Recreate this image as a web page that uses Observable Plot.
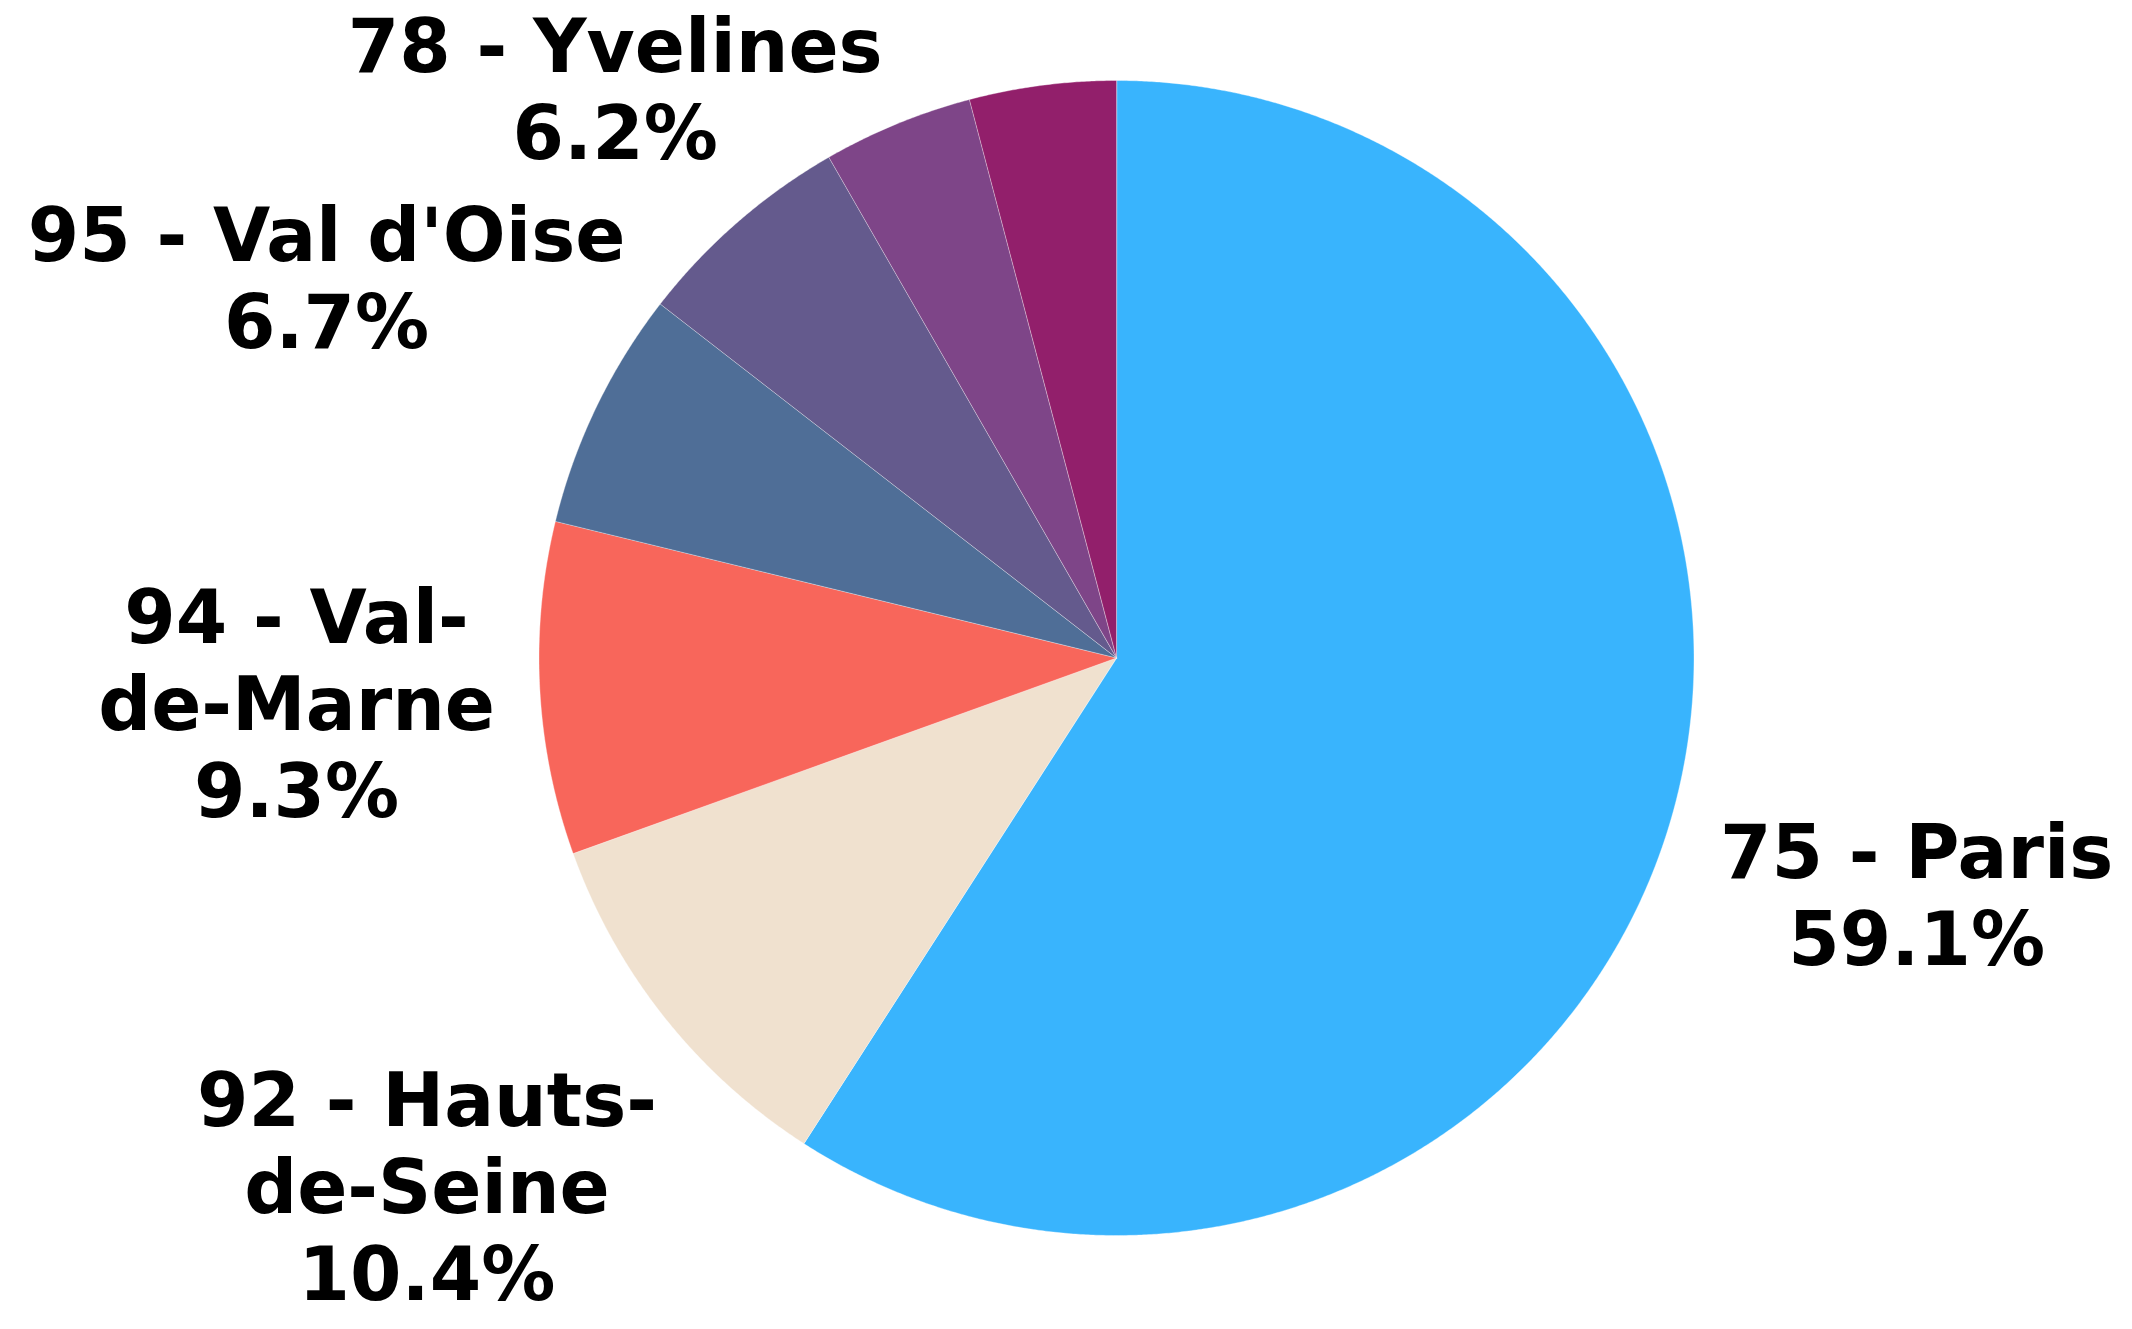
<!DOCTYPE html>
<html>
<head>
<meta charset="utf-8">
<script src="https://cdn.jsdelivr.net/npm/d3@7"></script>
<script src="https://cdn.jsdelivr.net/npm/@observablehq/plot@0.6"></script>
<style>
  html, body { margin: 0; padding: 0; background: #ffffff; }
  #chart svg { display: block; }
</style>
</head>
<body>
<div id="chart"></div>
<script>
// ---- Data ----
const departments = ["75 - Paris", "92 - Hauts-de-Seine", "94 - Val-de-Marne", "95 - Val d'Oise", "78 - Yvelines", "91 - Essonne", "77 - Seine-et-Marne"];
const shares = [59.1, 10.4, 9.3, 6.7, 6.2, 4.2, 4.1];
// label text as wrapped in the reference (null = no label shown)
const labelLines = ["75 - Paris", "92 - Hauts-\nde-Seine", "94 - Val-\nde-Marne", "95 - Val d'Oise", "78 - Yvelines", null, null];
const palette = ["#39b4fd", "#f0e1cf", "#f8665b", "#4f6e97", "#645a8d", "#7e4588", "#921f6b"];

// ---- Layout ----
const W = 2132, H = 1329;
const R = 577.5, CX = 1116, CY = 657.5;
const FONT_SIZE = 74, LINE_H = 87, GAP = 44, EDGE = 14;
const FONT = `bold ${FONT_SIZE}px 'DejaVu Sans'`;

const data = departments.map((name, i) => ({
  name,
  value: shares[i],
  label: labelLines[i] ? labelLines[i] + "\n" + shares[i].toFixed(1) + "%" : null
}));

const arcs = d3.pie().sort(null).value(d => d.value)(data);

// slice polygons in unit-radius coordinates (y up)
const slicePts = [];
for (const a of arcs) {
  slicePts.push({name: a.data.name, x: 0, y: 0});
  const n = Math.max(2, Math.ceil((a.endAngle - a.startAngle) / (Math.PI / 720)));
  for (let k = 0; k <= n; k++) {
    const t = a.startAngle + (a.endAngle - a.startAngle) * k / n;
    slicePts.push({name: a.data.name, x: Math.sin(t), y: Math.cos(t)});
  }
}

// label placement: along the mid-angle ray, just clear of the pie
const ctx = document.createElement("canvas").getContext("2d");
ctx.font = FONT;
function clamp(v, a, b) { return Math.max(a, Math.min(b, v)); }
function clearance(cx, cy, widths) {
  const n = widths.length;
  let m = Infinity;
  widths.forEach((w, i) => {
    const x0 = cx - w / 2, x1 = cx + w / 2;
    const y0 = cy - n * LINE_H / 2 + i * LINE_H, y1 = y0 + LINE_H;
    const nx = clamp(0, x0, x1), ny = clamp(0, y0, y1);
    m = Math.min(m, Math.hypot(nx, ny));
  });
  return m;
}
const labels = [];
for (const a of arcs) {
  if (!a.data.label) continue;
  const lines = a.data.label.split("\n");
  const widths = lines.map(l => ctx.measureText(l).width);
  const mid = (a.startAngle + a.endAngle) / 2;
  const ux = Math.sin(mid), uy = -Math.cos(mid); // screen coords, y down
  let lo = 0, hi = 3000;
  for (let it = 0; it < 60; it++) {
    const D = (lo + hi) / 2;
    if (clearance(D * ux, D * uy, widths) >= R + GAP) hi = D; else lo = D;
  }
  let px = hi * ux, py = hi * uy;
  const bw = Math.max(...widths), bh = lines.length * LINE_H;
  // keep inside the canvas
  px = clamp(px, -CX + bw / 2, W - CX - bw / 2);
  py = clamp(py, -CY + bh / 2, H - CY - bh / 2 - EDGE);
  labels.push({label: a.data.label, x: px / R, y: -py / R});
}

const chart = Plot.plot({
  width: W,
  height: H,
  margin: 0,
  style: {background: "#ffffff", fontFamily: "'DejaVu Sans', Verdana, sans-serif"},
  x: {domain: [-CX / R, (W - CX) / R], axis: null},
  y: {domain: [-(H - CY) / R, CY / R], axis: null},
  color: {domain: departments, range: palette},
  marks: [
    Plot.line(slicePts, {
      x: "x", y: "y", z: "name", fill: "name",
      stroke: "#ffffff", strokeWidth: 1, strokeOpacity: 0.35,
      curve: "linear-closed"
    }),
    Plot.text(labels, {
      x: "x", y: "y", text: "label",
      fontSize: FONT_SIZE, fontWeight: "bold",
      fontFamily: "'DejaVu Sans', Verdana, sans-serif",
      lineHeight: LINE_H / FONT_SIZE, lineAnchor: "middle",
      textAnchor: "middle", fill: "#000000"
    })
  ]
});
document.getElementById("chart").appendChild(chart);
</script>
</body>
</html>
